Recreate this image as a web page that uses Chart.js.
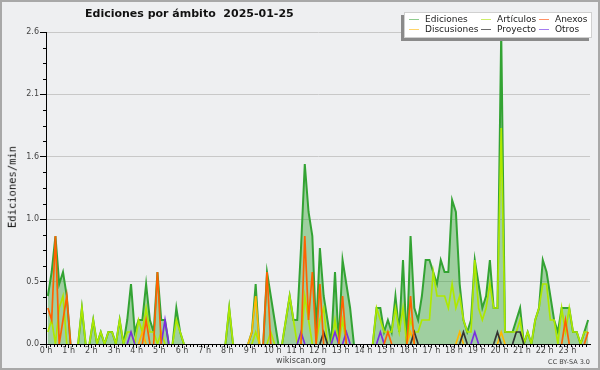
<!DOCTYPE html>
<html>
<head>
<meta charset="utf-8">
<script src="https://cdn.jsdelivr.net/npm/chart.js@4.4.1/dist/chart.umd.min.js"></script>
<style>
  html, body { margin: 0; padding: 0; background: #fff; }
  #wrap { position: relative; width: 600px; height: 370px; background: #eeeff1; overflow: hidden; font-family: "DejaVu Sans", sans-serif; }
  #chart { position: absolute; left: 0; top: 0; }
  #frame { position: absolute; left: 0; top: 0; width: 600px; height: 370px; box-sizing: border-box; border: 2px solid #a8a8a8; pointer-events: none; }
  #title { position: absolute; left: 85px; top: 8px; font-size: 11px; font-weight: bold; line-height: 1; white-space: pre; color: #111; }
  #ytitle { position: absolute; left: 12px; top: 187px; transform: translate(-50%, -50%) rotate(-90deg); font-family: "DejaVu Sans Mono", monospace; font-size: 10.5px; line-height: 1; white-space: nowrap; color: #111; }
  #legend { position: absolute; left: 404px; top: 12px; width: 188px; height: 26px; box-sizing: border-box; background: #fff; border: 1px solid #d0d0d0; box-shadow: -3px 3px 0 #8a8a8a; }
  .item { position: absolute; font-size: 9px; line-height: 9px; color: #222; white-space: nowrap; }
  .swatch { position: absolute; width: 10px; height: 1px; }
  #site { position: absolute; left: 301px; top: 357px; transform: translateX(-50%); font-size: 8px; line-height: 8px; color: #444; }
  #lic { position: absolute; right: 10px; top: 359px; font-size: 6.5px; line-height: 7px; color: #444; }
</style>
</head>
<body>
<div id="wrap">
  <canvas id="chart" width="600" height="370"></canvas>
  <div id="title">Ediciones por ámbito  2025-01-25</div>
  <div id="ytitle">Ediciones/min</div>
  <div id="legend"></div>
  <div id="site">wikiscan.org</div>
  <div id="lic">CC BY-SA 3.0</div>
  <div id="frame"></div>
</div>
<script>
// edits per minute, one value per 10-minute slot (144 slots, two hours per line)
const ediciones = [
  0.4,0.6,0.9,0.5,0.6,0.4, 0,0,0,0.3,0,0,
  0.2,0,0.1,0,0.1,0.1, 0,0.2,0,0.2,0.5,0.1,
  0.2,0.2,0.5,0.2,0.1,0.6, 0.2,0.2,0,0,0.3,0.1,
  0,0,0,0,0,0, 0,0,0,0,0,0,
  0.3,0,0,0,0,0, 0.1,0.5,0,0,0.6,0.4,
  0.2,0,0,0.2,0.4,0.2, 0.2,0.8,1.5,1.1,0.9,0.1,
  0.8,0.4,0.2,0,0.6,0, 0.7,0.5,0.3,0,0,0,
  0,0,0,0.3,0.3,0.1, 0.2,0.1,0.4,0.1,0.7,0,
  0.9,0.3,0.2,0.4,0.7,0.7, 0.6,0.5,0.7,0.6,0.6,1.2,
  1.1,0.5,0.2,0.1,0.2,0.7, 0.5,0.3,0.4,0.7,0.3,0.3,
  2.6,0.1,0.1,0.1,0.2,0.3, 0,0.1,0,0.2,0.3,0.7,
  0.6,0.4,0.2,0.1,0.3,0.3, 0.3,0.1,0.1,0,0.1,0.2
];
const articulos = [
  0.1,0.2,0,0.3,0.4,0, 0,0,0,0.3,0,0,
  0.2,0,0.1,0,0.1,0.1, 0,0.2,0,0.1,0.1,0,
  0.2,0.1,0.3,0.1,0.1,0, 0.1,0,0,0,0.2,0.1,
  0,0,0,0,0,0, 0,0,0,0,0,0,
  0.3,0,0,0,0,0, 0,0.1,0,0,0,0.1,
  0,0,0,0.2,0.4,0.2, 0,0,0.4,0.2,0,0,
  0.2,0.3,0,0,0.2,0, 0.2,0,0,0,0,0,
  0,0,0,0.3,0.2,0.1, 0.1,0.1,0.3,0.1,0.3,0,
  0.2,0.1,0.1,0.2,0.2,0.2, 0.6,0.4,0.4,0.4,0.3,0.5,
  0.3,0.4,0.2,0.1,0.1,0.7, 0.3,0.2,0.3,0.5,0.3,0.3,
  1.8,0.1,0.1,0.1,0.1,0.2, 0,0.1,0,0.2,0.3,0.5,
  0.5,0.2,0.2,0,0.3,0.1, 0.3,0.1,0.1,0,0.1,0.1
];
const anexos = [
  0.3,0.2,0.9,0,0.2,0.4, 0,0,0,0,0,0,
  0,0,0,0,0,0, 0,0,0,0,0,0,
  0,0,0.2,0,0,0.6, 0,0,0,0,0,0,
  0,0,0,0,0,0, 0,0,0,0,0,0,
  0,0,0,0,0,0, 0,0,0,0,0.6,0,
  0,0,0,0,0,0, 0,0,0.9,0.2,0.6,0,
  0.5,0,0,0,0,0, 0.4,0,0,0,0,0,
  0,0,0,0,0,0, 0.1,0,0,0,0,0,
  0.4,0,0,0,0,0, 0,0,0,0,0,0,
  0,0,0,0,0,0, 0,0,0,0,0,0,
  0,0,0,0,0,0, 0,0,0,0,0,0,
  0,0,0,0,0,0.2, 0,0,0,0,0,0.1
];
const discusiones = [
  0,0,0,0,0,0, 0,0,0,0,0,0,
  0,0,0,0,0,0, 0,0,0,0,0,0,
  0,0.1,0,0,0,0, 0,0,0,0,0,0,
  0,0,0,0,0,0, 0,0,0,0,0,0,
  0,0,0,0,0,0, 0.1,0.4,0,0,0,0,
  0,0,0,0,0,0, 0,0,0,0,0,0,
  0,0,0,0,0,0, 0,0,0,0,0,0,
  0,0,0,0,0,0, 0,0,0,0,0,0,
  0.1,0,0,0,0,0, 0,0,0,0,0,0,
  0,0.1,0,0,0,0, 0,0,0,0,0,0,
  0.1,0,0,0,0,0, 0,0,0,0,0,0,
  0,0,0,0,0,0, 0,0,0,0,0,0
];
const proyecto = [
  0,0,0,0,0,0, 0,0,0,0,0,0,
  0,0,0,0,0,0, 0,0,0,0,0,0,
  0,0,0,0,0,0, 0,0,0,0,0,0,
  0,0,0,0,0,0, 0,0,0,0,0,0,
  0,0,0,0,0,0, 0,0,0,0,0,0,
  0,0,0,0,0,0, 0,0,0,0,0,0,
  0,0.1,0,0,0,0, 0,0,0,0,0,0,
  0,0,0,0,0,0, 0,0,0,0,0,0,
  0,0.1,0,0,0,0, 0,0,0,0,0,0,
  0,0,0.1,0,0,0, 0,0,0,0,0,0.1,
  0,0,0,0,0.1,0.1, 0,0,0,0,0,0,
  0,0,0,0,0,0, 0,0,0,0,0,0
];
const otros = [
  0,0,0,0,0,0, 0,0,0,0,0,0,
  0,0,0,0,0,0, 0,0,0,0,0.1,0,
  0,0,0,0,0,0, 0,0.2,0,0,0,0,
  0,0,0,0,0,0, 0,0,0,0,0,0,
  0,0,0,0,0,0, 0,0,0,0,0,0,
  0,0,0,0,0,0, 0,0.1,0,0,0,0,
  0,0,0,0,0.1,0, 0,0.1,0,0,0,0,
  0,0,0,0,0.1,0, 0,0,0,0,0,0,
  0,0,0,0,0,0, 0,0,0,0,0,0,
  0,0,0,0,0,0.1, 0,0,0,0,0,0,
  0,0,0,0,0,0, 0,0,0,0,0,0,
  0,0,0,0,0,0, 0,0,0,0,0,0
];

const hourTicks = [0,1,2,3,4,5,6,7,8,9,10,11,12,13,14,15,16,17,18,19,20,21,22,23];
const yTicks = [0, 0.52, 1.04, 1.56, 2.08, 2.6];
const yMax = 2.6;
const slotsPerHour = 6;

// legend order is row by row, as in the picture
const series = [
  { name: "Ediciones",   data: ediciones,   color: "#33a333", key: "#8fcc8f", order: 10 },
  { name: "Artículos",   data: articulos,   color: "#aee800", key: "#cdee6a", order: 5 },
  { name: "Anexos",      data: anexos,      color: "#ff6200", key: "#ff9166", order: 1 },
  { name: "Discusiones", data: discusiones, color: "#ffb800", key: "#ffd46a", order: 4 },
  { name: "Proyecto",    data: proyecto,    color: "#333333", key: "#6a6a6a", order: 3 },
  { name: "Otros",       data: otros,       color: "#7a2ee0", key: "#a47cf0", order: 2 }
];

// legend, 3 columns x 2 rows
const legendCols = [4, 76, 134];
const legendRows = [7, 17];
const legendBox = document.getElementById("legend");
series.forEach((s, k) => {
  const col = k % 3, row = Math.floor(k / 3);
  const sw = document.createElement("div");
  sw.className = "swatch";
  sw.style.left = legendCols[col] + "px";
  sw.style.top = legendRows[row] - 1 + "px";
  sw.style.background = s.key;
  legendBox.appendChild(sw);
  const tx = document.createElement("div");
  tx.className = "item";
  tx.textContent = s.name;
  tx.style.left = legendCols[col] + 16 + "px";
  tx.style.top = legendRows[row] - 5 + "px";
  legendBox.appendChild(tx);
});

const toPoints = (arr) => arr.map((v, i) => ({ x: (i + 0.5) / slotsPerHour, y: v }));

// no line along the baseline where nothing happened
const flatZero = (ctx) =>
  ctx.p0.parsed.y === 0 && ctx.p1.parsed.y === 0 ? "rgba(0,0,0,0)" : undefined;

const datasets = series.map((s) => ({
  label: s.name,
  data: toPoints(s.data),
  borderColor: s.color,
  borderWidth: s.name === "Ediciones" ? 2 : 1.7,
  fill: false,
  order: s.order,
  segment: { borderColor: flatZero }
}));

// shaded area under the total (dataset 0), from the points the library placed
const areaFill = {
  id: "areaFill",
  beforeDatasetsDraw(chart) {
    const { ctx, chartArea } = chart;
    const pts = chart.getDatasetMeta(0).data;
    const base = chart.scales.y.getPixelForValue(0);
    ctx.save();
    ctx.beginPath();
    ctx.rect(chartArea.left, chartArea.top, chartArea.width, chartArea.height);
    ctx.clip();
    ctx.beginPath();
    ctx.moveTo(pts[0].x, base);
    pts.forEach((p) => ctx.lineTo(p.x, p.y));
    ctx.lineTo(pts[pts.length - 1].x, base);
    ctx.closePath();
    ctx.fillStyle = "rgba(40,160,40,0.4)";
    ctx.fill();
    ctx.restore();
  }
};

// small ticks: every 10 minutes on x, quarter steps on y
const minorTicks = {
  id: "minorTicks",
  afterDraw(chart) {
    const { ctx, chartArea } = chart;
    const x = chart.scales.x, y = chart.scales.y;
    ctx.save();
    ctx.strokeStyle = "#000";
    ctx.lineWidth = 1;
    ctx.beginPath();
    for (let k = 0; k <= 24 * slotsPerHour; k++) {
      if (k % slotsPerHour === 0) continue;
      const px = Math.round(x.getPixelForValue(k / slotsPerHour)) + 0.5;
      ctx.moveTo(px, chartArea.bottom);
      ctx.lineTo(px, chartArea.bottom + 3);
    }
    const step = (yTicks[1] - yTicks[0]) / 4;
    for (let k = 1; k < 20; k++) {
      if (k % 4 === 0) continue;
      const py = Math.round(y.getPixelForValue(k * step)) + 0.5;
      ctx.moveTo(chartArea.left - 3, py);
      ctx.lineTo(chartArea.left, py);
    }
    ctx.stroke();
    ctx.restore();
  }
};

const tickFont = { family: "DejaVu Sans", size: 8 };

new Chart(document.getElementById("chart"), {
  type: "line",
  data: { datasets },
  options: {
    responsive: false,
    animation: false,
    devicePixelRatio: 1,
    layout: { padding: { top: 32, right: 10, left: 0, bottom: 0 } },
    plugins: { legend: { display: false }, tooltip: { enabled: false }, title: { display: false } },
    elements: { point: { radius: 0 }, line: { tension: 0 } },
    scales: {
      x: {
        type: "linear",
        min: 0,
        max: 24,
        z: 1,
        afterBuildTicks: (s) => { s.ticks = hourTicks.map((v) => ({ value: v })); },
        afterFit: (s) => { s.height = 26; },
        grid: { drawOnChartArea: false, tickLength: 4, tickColor: "#000" },
        border: { color: "#000" },
        ticks: { autoSkip: false, maxRotation: 0, padding: -2, color: "#444", font: tickFont,
                 callback: (v) => v + " h" }
      },
      y: {
        min: 0,
        max: yMax,
        afterBuildTicks: (s) => { s.ticks = yTicks.map((v) => ({ value: v })); },
        afterFit: (s) => { s.width = 46; },
        grid: { color: "#c8c8c8", tickColor: "#000", tickLength: 6 },
        border: { color: "#000" },
        ticks: { padding: 1, color: "#444", font: tickFont, callback: (v) => v.toFixed(1) }
      }
    }
  },
  plugins: [areaFill, minorTicks]
});
</script>
</body>
</html>
